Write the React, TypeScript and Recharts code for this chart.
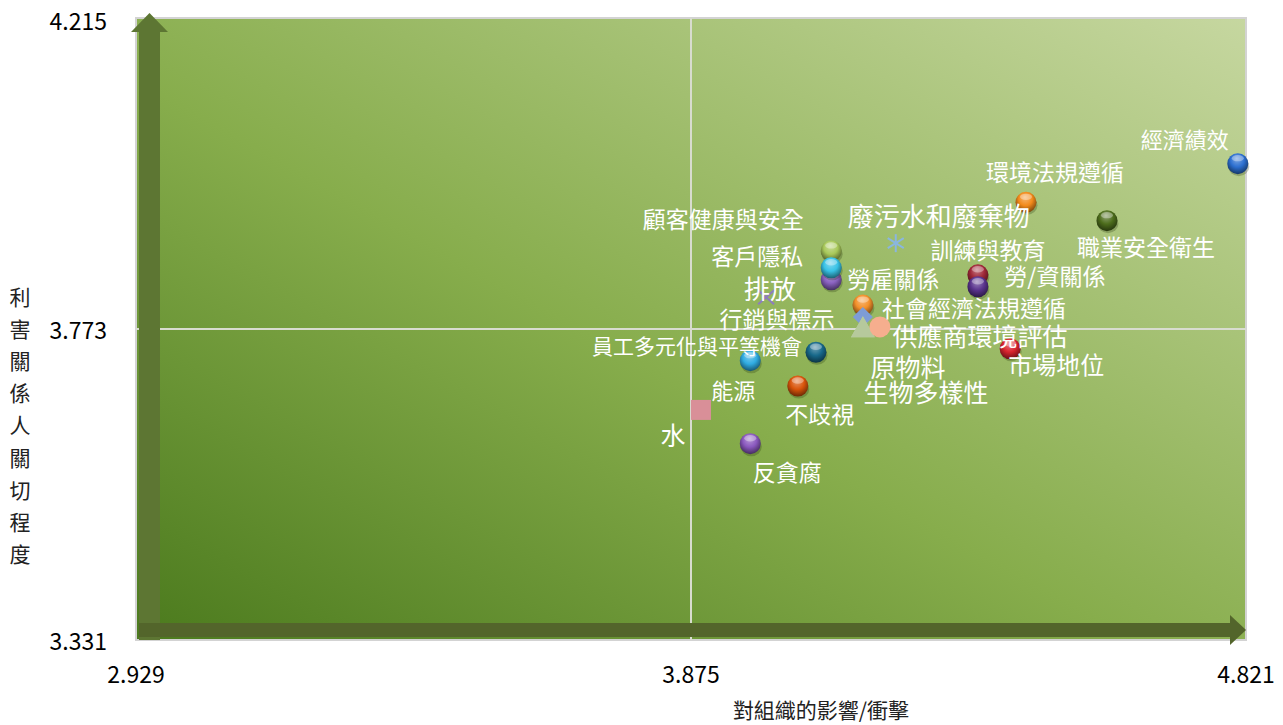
import React from 'react';
import {
  ReferenceArea,
  ReferenceLine,
  Scatter,
  ScatterChart,
  XAxis,
  YAxis,
} from 'recharts';

// materiality matrix: impact on organisation (x) vs stakeholder concern (y)
const TOPICS = [
  '經濟績效',
  '環境法規遵循',
  '職業安全衛生',
  '廢污水和廢棄物',
  '訓練與教育',
  '勞/資關係',
  '顧客健康與安全',
  '勞雇關係',
  '客戶隱私',
  '排放',
  '社會經濟法規遵循',
  '行銷與標示',
  '生物多樣性',
  '原物料',
  '供應商環境評估',
  '市場地位',
  '員工多元化與平等機會',
  '能源',
  '不歧視',
  '水',
  '反貪腐',
];
const IMPACT = [
  4.807, 4.446, 4.584, 4.224, 4.364, 4.364, 4.114, 4.114, 4.114, 4.003, 4.168,
  4.168, 4.168, 4.168, 4.197, 4.419, 4.088, 3.976, 4.057, 3.892, 3.976,
];
const CONCERN = [
  4.008, 3.953, 3.927, 3.895, 3.85, 3.833, 3.884, 3.843, 3.86, 3.818, 3.807,
  3.79, 3.774, 3.774, 3.776, 3.745, 3.74, 3.728, 3.692, 3.658, 3.61,
];
const X_TICKS = [2.929, 3.875, 4.821];
const Y_TICKS = [3.331, 3.773, 4.215];
const X_TITLE = '對組織的影響/衝擊';
const Y_TITLE = '利害關係人關切程度';

const FONT = '"Noto Sans CJK TC", "Noto Sans", sans-serif';

type Kind = 'ball' | 'star' | 'cross' | 'diamond' | 'triangle' | 'dot' | 'square';

const MARKERS: Record<string, { kind: Kind; color: string }> = {
  經濟績效: { kind: 'ball', color: '#2c6fd0' },
  環境法規遵循: { kind: 'ball', color: '#f28a1a' },
  職業安全衛生: { kind: 'ball', color: '#4d6d1c' },
  廢污水和廢棄物: { kind: 'star', color: '#8ab6e0' },
  訓練與教育: { kind: 'ball', color: '#a02838' },
  '勞/資關係': { kind: 'ball', color: '#5a348e' },
  顧客健康與安全: { kind: 'ball', color: '#a8c85a' },
  勞雇關係: { kind: 'ball', color: '#8a62c0' },
  客戶隱私: { kind: 'ball', color: '#38c2e6' },
  排放: { kind: 'cross', color: '#8d7cc0' },
  社會經濟法規遵循: { kind: 'ball', color: '#f3902a' },
  行銷與標示: { kind: 'diamond', color: '#7e9cd6' },
  生物多樣性: { kind: 'triangle', color: '#b6c99c' },
  原物料: { kind: 'triangle', color: '#b6c99c' },
  供應商環境評估: { kind: 'dot', color: '#f6ae8e' },
  市場地位: { kind: 'ball', color: '#d8242e' },
  員工多元化與平等機會: { kind: 'ball', color: '#17688a' },
  能源: { kind: 'ball', color: '#30ace2' },
  不歧視: { kind: 'ball', color: '#d9540a' },
  水: { kind: 'square', color: '#d98f98' },
  反貪腐: { kind: 'ball', color: '#8a58be' },
};

// label offset from its point [dx, dy, fontSize]
const LABELS: Record<string, [number, number, number]> = {
  經濟績效: [-53, -26, 22],
  環境法規遵循: [29, -31, 23],
  職業安全衛生: [39, 25, 23],
  廢污水和廢棄物: [43, -29, 26],
  訓練與教育: [10, -26, 23],
  '勞/資關係': [77, -12, 23],
  顧客健康與安全: [-108, -33, 23],
  勞雇關係: [62, -2, 23],
  客戶隱私: [-74, -13, 23],
  排放: [4, -10, 26],
  社會經濟法規遵循: [111, 2, 23],
  行銷與標示: [-86, 1, 23],
  生物多樣性: [63, 63, 25],
  原物料: [45, 38, 25],
  供應商環境評估: [100, 8, 25],
  市場地位: [46, 15, 24],
  員工多元化與平等機會: [-119, -7, 21],
  能源: [-17, 28, 22],
  不歧視: [22, 27, 23],
  水: [-28, 24, 25],
  反貪腐: [37, 27, 23],
};

const data = TOPICS.map((name, i) => ({ name, impact: IMPACT[i], concern: CONCERN[i] }));

function mix(hex: string, target: string, t: number): string {
  const a = parseInt(hex.slice(1), 16);
  const b = parseInt(target.slice(1), 16);
  const ch = (v: number, s: number) => (v >> s) & 255;
  const out = [16, 8, 0].map((s) => Math.round(ch(a, s) + (ch(b, s) - ch(a, s)) * t));
  return '#' + out.map((v) => v.toString(16).padStart(2, '0')).join('');
}

function Marker(props: any) {
  const { cx, cy, payload, index } = props;
  if (cx == null || cy == null) return null;
  const m = MARKERS[payload.name];
  const c = m.color;
  switch (m.kind) {
    case 'ball': {
      const id = `ball-${index}`;
      return (
        <g>
          <defs>
            <radialGradient id={id} cx="50%" cy="40%" r="60%" fx="45%" fy="25%">
              <stop offset="0%" stopColor={mix(c, '#ffffff', 0.4)} />
              <stop offset="55%" stopColor={c} />
              <stop offset="100%" stopColor={mix(c, '#000000', 0.5)} />
            </radialGradient>
          </defs>
          <ellipse cx={cx + 1} cy={cy + 3} rx={10.5} ry={9.5} fill="#1f2f08" opacity={0.25} />
          <circle cx={cx} cy={cy} r={10.5} fill={`url(#${id})`} />
          <ellipse cx={cx} cy={cy - 5.5} rx={6} ry={3.2} fill="#ffffff" opacity={0.35} />
        </g>
      );
    }
    case 'star':
      return (
        <g stroke={c} strokeWidth={2}>
          <line x1={cx} y1={cy - 9} x2={cx} y2={cy + 9} />
          <line x1={cx - 8} y1={cy - 5} x2={cx + 8} y2={cy + 5} />
          <line x1={cx + 8} y1={cy - 5} x2={cx - 8} y2={cy + 5} />
        </g>
      );
    case 'cross':
      return (
        <g stroke={c} strokeWidth={2}>
          <line x1={cx - 8} y1={cy - 7} x2={cx + 8} y2={cy + 7} />
          <line x1={cx + 8} y1={cy - 7} x2={cx - 8} y2={cy + 7} />
        </g>
      );
    case 'diamond':
      return (
        <polygon
          points={`${cx},${cy - 10} ${cx + 10},${cy} ${cx},${cy + 10} ${cx - 10},${cy}`}
          fill={c}
        />
      );
    case 'triangle':
      return (
        <polygon
          points={`${cx},${cy - 12} ${cx + 12},${cy + 9} ${cx - 12},${cy + 9}`}
          fill={c}
        />
      );
    case 'dot':
      return <circle cx={cx} cy={cy} r={10.5} fill={c} />;
    case 'square':
      return <rect x={cx - 10} y={cy - 10} width={20} height={20} fill={c} />;
    default:
      return null;
  }
}

function TopicLabel(props: any) {
  const { cx, cy, payload } = props;
  if (cx == null || cy == null) return null;
  const [dx, dy, size] = LABELS[payload.name];
  return (
    <text
      x={cx + dx}
      y={cy + dy}
      textAnchor="middle"
      dominantBaseline="central"
      fontSize={size}
      fontFamily={FONT}
      fill="#ffffff"
    >
      {payload.name}
    </text>
  );
}

function YTick(props: any) {
  const { x, y, payload } = props;
  // keep the top label inside the drawing
  const ty = Math.max(y, 20);
  return (
    <text
      x={x}
      y={ty}
      textAnchor="end"
      dominantBaseline="central"
      fontSize={23}
      fontFamily={FONT}
      fill="#000"
    >
      {payload.value}
    </text>
  );
}

function YArrow(props: any) {
  const { x1, y1, y2 } = props;
  const top = Math.min(y1, y2);
  const bottom = Math.max(y1, y2);
  return (
    <g>
      <rect x={x1 + 3} y={top + 14} width={21} height={bottom - top - 14} fill="#5d7633" />
      <polygon
        points={`${x1 - 5},${top + 14} ${x1 + 13.5},${top - 5} ${x1 + 32},${top + 14}`}
        fill="#5d7633"
      />
    </g>
  );
}

function XArrow(props: any) {
  const { x1, x2, y1 } = props;
  const left = Math.min(x1, x2);
  const right = Math.max(x1, x2);
  return (
    <g>
      <rect x={left + 3} y={y1 - 17} width={right - left - 19} height={14} fill="#53652b" />
      <polygon
        points={`${right - 16},${y1 - 25} ${right},${y1 - 10} ${right - 16},${y1 + 5}`}
        fill="#53652b"
      />
    </g>
  );
}

export default function App() {
  return (
    <div style={{ width: 1283, height: 725, margin: '-8px 0 0 -8px', fontFamily: FONT }}>
      <ScatterChart width={1283} height={725} margin={{ top: 18, right: 37, bottom: 0, left: 0 }}>
        <defs>
          <linearGradient id="plotBg" x1="0" y1="1" x2="1" y2="0">
            <stop offset="0%" stopColor="#4b7a1d" />
            <stop offset="45%" stopColor="#87ad4c" />
            <stop offset="100%" stopColor="#c6d7a0" />
          </linearGradient>
        </defs>
        <XAxis
          type="number"
          dataKey="impact"
          domain={[2.929, 4.821]}
          ticks={X_TICKS}
          interval={0}
          height={85}
          axisLine={false}
          tickLine={false}
          tickSize={0}
          tickMargin={27}
          tick={{ fill: '#000', fontSize: 23, fontFamily: FONT }}
          label={{
            content: (p: any) => (
              <text
                x={p.viewBox.x + 685}
                y={p.viewBox.y + 69}
                textAnchor="middle"
                dominantBaseline="central"
                fontSize={21}
                fontFamily={FONT}
                fill="#222"
              >
                {X_TITLE}
              </text>
            ),
          }}
        />
        <YAxis
          type="number"
          dataKey="concern"
          domain={[3.331, 4.215]}
          ticks={Y_TICKS}
          interval={0}
          width={136}
          axisLine={false}
          tickLine={false}
          tickSize={0}
          tickMargin={29}
          tick={<YTick />}
          label={{
            content: (p: any) => (
              <text fontSize={21} fontFamily={FONT} fill="#222" textAnchor="middle">
                {Array.from(Y_TITLE).map((ch, i) => (
                  <tspan
                    key={i}
                    x={p.viewBox.x + 20}
                    y={p.viewBox.y + 280 + i * 32.1 + 7}
                  >
                    {ch}
                  </tspan>
                ))}
              </text>
            ),
          }}
        />
        <ReferenceArea
          x1={2.929}
          x2={4.821}
          y1={3.331}
          y2={4.215}
          fill="url(#plotBg)"
          fillOpacity={1}
          stroke="#d3d3d3"
          strokeWidth={2}
        />
        <ReferenceLine x={3.875} stroke="#d8dccf" strokeWidth={2} />
        <ReferenceLine y={3.773} stroke="#d8dccf" strokeWidth={2} />
        <ReferenceLine x={2.929} shape={<YArrow />} />
        <ReferenceLine y={3.331} shape={<XArrow />} />
        <Scatter data={data} shape={<Marker />} isAnimationActive={false} />
        <Scatter data={data} shape={<TopicLabel />} isAnimationActive={false} />
      </ScatterChart>
    </div>
  );
}
